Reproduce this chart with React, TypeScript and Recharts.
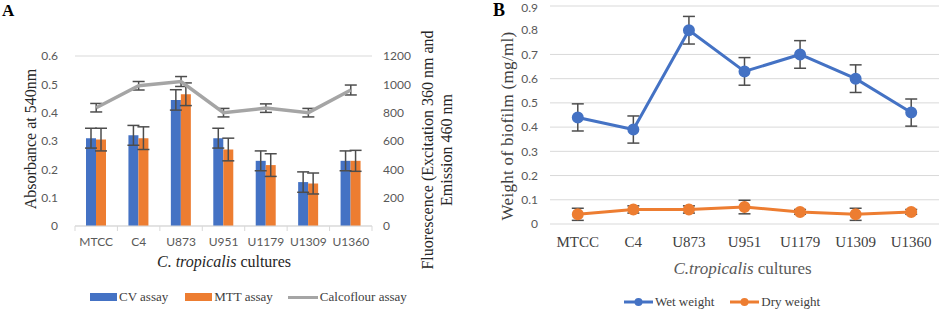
import React from "react";
import {
  ComposedChart,
  LineChart,
  Bar,
  Line,
  XAxis,
  YAxis,
  CartesianGrid,
  ErrorBar,
} from "recharts";

const categories = ["MTCC", "C4", "U873", "U951", "U1179", "U1309", "U1360"];

// panel A
const cvAssay = [0.31, 0.32, 0.445, 0.31, 0.23, 0.155, 0.23];
const cvErr = [0.035, 0.035, 0.036, 0.035, 0.035, 0.036, 0.035];
const mttAssay = [0.305, 0.31, 0.465, 0.27, 0.215, 0.15, 0.23];
const mttErr = [0.04, 0.04, 0.04, 0.04, 0.04, 0.037, 0.037];
const calcoflour = [835, 990, 1020, 800, 832, 800, 960];
const calcoflourErr = [30, 30, 35, 30, 30, 30, 35];
const absTicks = [0, 0.1, 0.2, 0.3, 0.4, 0.5, 0.6];
const fluoTicks = [0, 200, 400, 600, 800, 1000, 1200];

// panel B
const wetWeight = [0.44, 0.39, 0.8, 0.63, 0.7, 0.6, 0.46];
const wetErr = [0.056, 0.056, 0.057, 0.057, 0.057, 0.057, 0.056];
const dryWeight = [0.04, 0.06, 0.06, 0.07, 0.05, 0.04, 0.05];
const dryErr = [0.025, 0.015, 0.015, 0.028, 0.01, 0.025, 0.01];
const weightTicks = [0, 0.1, 0.2, 0.3, 0.4, 0.5, 0.6, 0.7, 0.8, 0.9];

const dataA = categories.map((c, i) => ({
  name: c,
  cv: cvAssay[i],
  cvErr: cvErr[i],
  mtt: mttAssay[i],
  mttErr: mttErr[i],
  calco: calcoflour[i],
  calcoErr: calcoflourErr[i],
}));

const dataB = categories.map((c, i) => ({
  name: c,
  wet: wetWeight[i],
  wetErr: wetErr[i],
  dry: dryWeight[i],
  dryErr: dryErr[i],
}));

const BLUE = "#4472C4";
const ORANGE = "#ED7D31";
const GRAY = "#A5A5A5";
const ERR = "#4d4d4d";
const GRID = "#d9d9d9";
const SERIF = "'Liberation Serif', 'Times New Roman', serif";
const SANS = "Lato, 'Noto Sans', sans-serif";

const BAND_A = (372 - 75) / categories.length;

const TickA = (props: any) => {
  const { x, y, payload, index } = props;
  const axisY = y - 10;
  const half = BAND_A / 2;
  return (
    <g>
      <line x1={x - half} y1={axisY} x2={x - half} y2={axisY + 5} stroke={GRID} />
      {index === categories.length - 1 && (
        <line x1={x + half} y1={axisY} x2={x + half} y2={axisY + 5} stroke={GRID} />
      )}
      <text x={x} y={axisY + 20} textAnchor="middle" fill="#595959" fontSize={12} fontFamily={SANS}>
        {payload.value}
      </text>
    </g>
  );
};

const Rotated = ({ cx, cy, children, style }: any) => (
  <div
    style={{
      position: "absolute",
      left: cx,
      top: cy,
      transform: "translate(-50%, -50%) rotate(-90deg)",
      whiteSpace: "nowrap",
      fontFamily: SERIF,
      ...style,
    }}
  >
    {children}
  </div>
);

export default function App() {
  return (
    <div
      style={{
        position: "absolute",
        left: 0,
        top: 0,
        width: 941,
        height: 310,
        background: "#fff",
        overflow: "hidden",
      }}
    >
      {/* Panel A */}
      <div style={{ position: "absolute", left: 0, top: 0 }}>
        <ComposedChart
          width={470}
          height={310}
          data={dataA}
          margin={{ top: 56, right: 38, left: 0, bottom: 54 }}
          barGap={0}
        >
          <CartesianGrid vertical={false} stroke={GRID} />
          <XAxis
            dataKey="name"
            interval={0}
            axisLine={{ stroke: GRID }}
            tickLine={false}
            tickSize={6}
            tickMargin={4}
            tick={TickA}
          />
          <YAxis
            yAxisId="left"
            width={75}
            domain={[0, 0.6]}
            ticks={absTicks}
            axisLine={false}
            tickLine={false}
            tickMargin={11}
            tick={{ fill: "#595959", fontSize: 12, fontFamily: SANS }}
          />
          <YAxis
            yAxisId="right"
            orientation="right"
            width={60}
            domain={[0, 1200]}
            ticks={fluoTicks}
            axisLine={false}
            tickLine={false}
            tickMargin={5}
            tick={{ fill: "#595959", fontSize: 12, fontFamily: SANS, textAnchor: "start" }}
          />
          <Bar yAxisId="left" dataKey="cv" fill={BLUE} barSize={10} isAnimationActive={false}>
            <ErrorBar dataKey="cvErr" width={6} stroke={ERR} strokeWidth={1.5} direction="y" />
          </Bar>
          <Bar yAxisId="left" dataKey="mtt" fill={ORANGE} barSize={10} isAnimationActive={false}>
            <ErrorBar dataKey="mttErr" width={6} stroke={ERR} strokeWidth={1.5} direction="y" />
          </Bar>
          <Line
            yAxisId="right"
            dataKey="calco"
            stroke={GRAY}
            strokeWidth={3.5}
            dot={false}
            isAnimationActive={false}
          >
            <ErrorBar dataKey="calcoErr" width={6} stroke={ERR} strokeWidth={1.5} direction="y" />
          </Line>
        </ComposedChart>
      </div>

      <div style={{ position: "absolute", left: 2, top: 1, fontFamily: SERIF, fontWeight: "bold", fontSize: 17 }}>
        A
      </div>
      <Rotated cx={31} cy={139} style={{ fontSize: 16, color: "#262626" }}>
        Absorbance at 540nm
      </Rotated>
      <Rotated cx={437} cy={150} style={{ fontSize: 16, color: "#262626", textAlign: "center", lineHeight: "19px" }}>
        Fluorescence (Excitation 360 nm and
        <br />
        Emission 460 nm
      </Rotated>
      <div
        style={{
          position: "absolute",
          left: 0,
          width: 448,
          top: 253,
          textAlign: "center",
          fontFamily: SERIF,
          fontSize: 16,
          color: "#262626",
        }}
      >
        <i>C. tropicalis</i> cultures
      </div>

      {/* Legend A */}
      <div
        style={{
          position: "absolute",
          left: 90,
          top: 289,
          display: "flex",
          alignItems: "center",
          fontFamily: SERIF,
          fontSize: 13,
          color: "#404040",
        }}
      >
        <span style={{ width: 27, height: 8, background: BLUE, display: "inline-block", marginRight: 2 }} />
        <span style={{ marginRight: 17 }}>CV assay</span>
        <span style={{ width: 27, height: 8, background: ORANGE, display: "inline-block", marginRight: 2 }} />
        <span style={{ marginRight: 15 }}>MTT assay</span>
        <span style={{ width: 30, height: 3, background: GRAY, display: "inline-block", marginRight: 2 }} />
        <span>Calcoflour assay</span>
      </div>

      {/* Panel B */}
      <div style={{ position: "absolute", left: 470, top: 0 }}>
        <LineChart
          width={471}
          height={310}
          data={dataB}
          margin={{ top: 6, right: 2, left: 0, bottom: 56 }}
        >
          <CartesianGrid vertical={false} stroke={GRID} />
          <XAxis
            dataKey="name"
            scale="band"
            interval={0}
            axisLine={false}
            tickLine={false}
            tickMargin={6}
            tick={{ fill: "#404040", fontSize: 15, fontFamily: SERIF }}
          />
          <YAxis
            width={80}
            domain={[0, 0.9]}
            ticks={weightTicks}
            axisLine={false}
            tickLine={false}
            tickMargin={6}
            tick={{ fill: "#595959", fontSize: 12, fontFamily: SANS }}
          />
          <Line
            dataKey="wet"
            stroke={BLUE}
            strokeWidth={3}
            dot={{ r: 4.5, fill: BLUE, stroke: BLUE }}
            isAnimationActive={false}
          >
            <ErrorBar dataKey="wetErr" width={6} stroke={ERR} strokeWidth={1.5} direction="y" />
          </Line>
          <Line
            dataKey="dry"
            stroke={ORANGE}
            strokeWidth={3}
            dot={{ r: 4.5, fill: ORANGE, stroke: ORANGE }}
            isAnimationActive={false}
          >
            <ErrorBar dataKey="dryErr" width={6} stroke={ERR} strokeWidth={1.5} direction="y" />
          </Line>
        </LineChart>
      </div>

      <div style={{ position: "absolute", left: 493, top: 0, fontFamily: SERIF, fontWeight: "bold", fontSize: 18 }}>
        B
      </div>
      <Rotated cx={508} cy={126} style={{ fontSize: 17, color: "#404040", letterSpacing: 0.3 }}>
        Weight of biofilm (mg/ml)
      </Rotated>
      <div
        style={{
          position: "absolute",
          left: 550,
          width: 385,
          top: 259,
          textAlign: "center",
          fontFamily: SERIF,
          fontSize: 17,
          color: "#595959",
        }}
      >
        <i>C.tropicalis</i> cultures
      </div>

      {/* Legend B */}
      <div
        style={{
          position: "absolute",
          left: 624,
          top: 294,
          display: "flex",
          alignItems: "center",
          fontFamily: SERIF,
          fontSize: 13,
          color: "#404040",
        }}
      >
        <svg width={29} height={10} style={{ marginRight: 2 }}>
          <line x1={0} y1={5} x2={29} y2={5} stroke={BLUE} strokeWidth={3} />
          <circle cx={14.5} cy={5} r={4} fill={BLUE} />
        </svg>
        <span style={{ marginRight: 16 }}>Wet weight</span>
        <svg width={29} height={10} style={{ marginRight: 2 }}>
          <line x1={0} y1={5} x2={29} y2={5} stroke={ORANGE} strokeWidth={3} />
          <circle cx={14.5} cy={5} r={4} fill={ORANGE} />
        </svg>
        <span>Dry weight</span>
      </div>
    </div>
  );
}
